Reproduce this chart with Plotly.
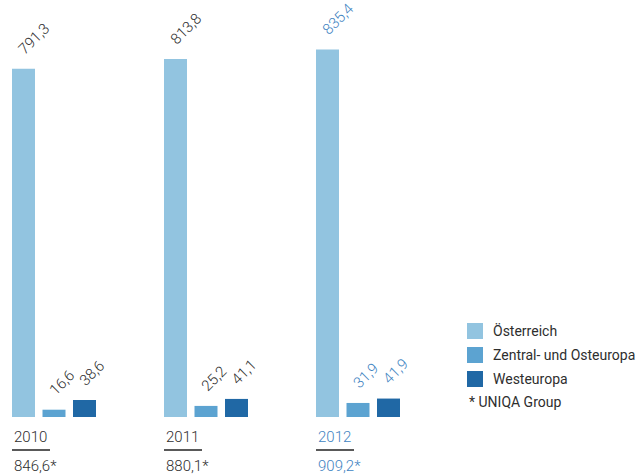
import plotly.graph_objects as go

years = ["2010", "2011", "2012"]
oesterreich = [791.3, 813.8, 835.4]
zentral_ost = [16.6, 25.2, 31.9]
westeuropa = [38.6, 41.1, 41.9]
uniqa_group = [846.6, 880.1, 909.2]
series_names = ["Österreich", "Zentral- und Osteuropa", "Westeuropa"]
footnote = "* UNIQA Group"

colors = ["#92c4e0", "#5ca3d1", "#2068a5"]
text_dark = "#2e2e2e"
text_blue = "#3f84c2"
FONT = "Roboto"

W, H = 638, 475
plot_bottom_px = 417
px_per_unit = 0.44
cat_px = 152.0
first_center_px = 54.0
bargap = 0.398
bargroupgap = 0.246

slot_d = (1 - bargap) / 3
bar_px = slot_d * (1 - bargroupgap) * cat_px


def fmt(v):
    return f"{v:.1f}".replace(".", ",")


fig = go.Figure()
series = [oesterreich, zentral_ost, westeuropa]
for name, vals, col in zip(series_names, series, colors):
    fig.add_trace(go.Bar(x=years, y=vals, name=name, marker_color=col,
                         marker_line_width=0, showlegend=False))

annotations = []
shapes = []
for i, yr in enumerate(years):
    tc = text_blue if i == len(years) - 1 else text_dark
    for k, vals in enumerate(series):
        xc = i + (k - 1) * slot_d
        annotations.append(dict(
            x=xc, y=vals[i], xref="x", yref="y", text=fmt(vals[i]),
            showarrow=False, textangle=-45, xanchor="left", yanchor="bottom",
            xshift=-bar_px / 2, yshift=8,
            font=dict(family=FONT, size=15, color=tc, weight=300)))
    left_x = i - slot_d - (bar_px / 2) / cat_px
    annotations.append(dict(
        x=left_x, y=0, xref="x", yref="paper", text=yr, showarrow=False,
        xanchor="left", yanchor="middle", yshift=-20,
        font=dict(family=FONT, size=15, color=tc, weight=300)))
    annotations.append(dict(
        x=left_x, y=0, xref="x", yref="paper", text=fmt(uniqa_group[i]) + "*",
        showarrow=False, xanchor="left", yanchor="middle", yshift=-49,
        font=dict(family=FONT, size=15, color=tc, weight=300)))
    shapes.append(dict(
        type="line", xref="x", yref="paper",
        x0=left_x, x1=left_x + 38 / cat_px,
        y0=-(450 - plot_bottom_px) / plot_bottom_px,
        y1=-(450 - plot_bottom_px) / plot_bottom_px,
        line=dict(color="#222222", width=1.5)))

# legend
leg_rows = [331, 355, 379]
for name, col, ypx in zip(series_names, colors, leg_rows):
    yp = (plot_bottom_px - ypx) / plot_bottom_px
    shapes.append(dict(type="rect", xref="paper", yref="paper",
                       x0=467 / W, x1=483 / W,
                       y0=yp - 8 / plot_bottom_px, y1=yp + 8 / plot_bottom_px,
                       fillcolor=col, line=dict(width=0)))
    annotations.append(dict(x=491 / W, y=yp, xref="paper", yref="paper",
                            text=name, showarrow=False, xanchor="left",
                            yanchor="middle",
                            font=dict(family=FONT, size=14, color=text_dark)))
annotations.append(dict(x=467 / W, y=(plot_bottom_px - 402) / plot_bottom_px,
                        xref="paper", yref="paper", text=footnote,
                        showarrow=False, xanchor="left", yanchor="middle",
                        font=dict(family=FONT, size=14, color=text_dark)))

x_lo = -first_center_px / cat_px
x_hi = (W - first_center_px) / cat_px

fig.update_layout(
    width=W, height=H,
    margin=dict(l=0, r=0, t=0, b=H - plot_bottom_px, autoexpand=False),
    paper_bgcolor="white", plot_bgcolor="white",
    barmode="group", bargap=bargap, bargroupgap=bargroupgap,
    xaxis=dict(type="category", range=[x_lo, x_hi], visible=False,
               fixedrange=True),
    yaxis=dict(range=[0, plot_bottom_px / px_per_unit], visible=False,
               fixedrange=True),
    annotations=annotations, shapes=shapes,
)

fig.write_html("out.html")
